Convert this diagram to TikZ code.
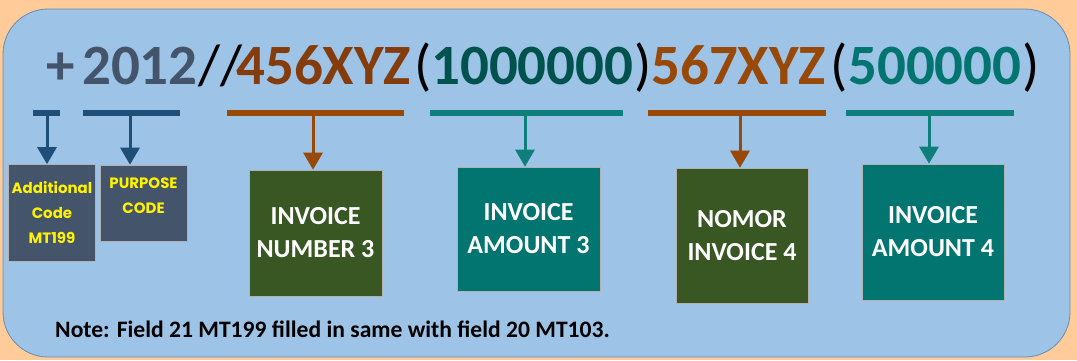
\documentclass[tikz,border=0pt]{standalone}
\usepackage{fontspec}
\setmainfont{Carlito}
\newfontfamily\gothicfont{Poppins}
\usepackage{xcolor}
\usepackage{tikz}
\usetikzlibrary{arrows.meta}

\definecolor{peach}{HTML}{FFCC99}
\definecolor{panel}{HTML}{9DC3E6}
\definecolor{frame}{HTML}{6A8CB0}
\definecolor{slate}{HTML}{44546A}
\definecolor{rust}{HTML}{843C0C}
\definecolor{amber}{HTML}{984807}
\definecolor{deepteal}{HTML}{00524E}
\definecolor{teal}{HTML}{037571}
\definecolor{navy}{HTML}{1F4E79}
\definecolor{barteal}{HTML}{0E7F7A}
\definecolor{olive}{HTML}{385723}

\begin{document}
\begin{tikzpicture}[x=1pt, y=-1pt,
  code/.style={font=\bfseries\fontsize{57}{60}\selectfont, inner sep=0pt, anchor=base west},
  mark line/.style={code, font=\mdseries\fontsize{57}{60}\selectfont},
  bar/.style={line width=6pt},
  pointer/.style={->, line width=3pt},
  >={Triangle[width=19pt, length=17pt]},
  fieldbox/.style={rectangle, draw=gray!60, line width=0.6pt, text centered, align=center, text=white, font=\bfseries\fontsize{26}{33}\selectfont},
  codebox/.style={rectangle, draw=gray!60, line width=0.6pt, fill=slate, text centered, align=center, text=yellow, font=\gothicfont\bfseries\fontsize{15}{25}\selectfont}]

% background and panel
\fill[peach] (0,0) rectangle (1077,360);
\draw[fill=panel, draw=frame, line width=0.8pt, rounded corners=45pt] (3,9) rectangle (1070,357);

% the code line
\node[code, text=slate] (plus) at (46,84) {+};
\node[code, text=slate] (year) at (82,84) {2012};
\node[mark line] (slash) at (198,84) {//};
\node[code, text=rust] (inv3) at (236,84) {456XYZ};
\node[mark line] (open3) at (414,84) {(};
\node[code, text=deepteal] (amt3) at (431,84) {1000000};
\node[mark line] (close3) at (634,84) {)};
\node[code, text=amber] (inv4) at (651,84) {567XYZ};
\node[mark line] (open4) at (830,84) {(};
\node[code, text=teal] (amt4) at (848,84) {500000};
\node[mark line] (close4) at (1022,84) {)};

% underline bars
\draw[bar, navy] (33,113) -- (60,113);
\draw[bar, navy] (83,113) -- (180,113);
\draw[bar, amber] (227,113) -- (404,113);
\draw[bar, barteal] (430,113) -- (623,113);
\draw[bar, amber] (648,113) -- (826,113);
\draw[bar, barteal] (846,113) -- (1014,113);
\coordinate (b1) at (47,113);
\coordinate (b2) at (130,113);
\coordinate (b3) at (313,113);
\coordinate (b4) at (525,113);
\coordinate (b5) at (740,113);
\coordinate (b6) at (929,113);

% field boxes
\node[codebox, minimum width=87pt, minimum height=97pt] (addl) at (52,213) {Additional\\Code\\MT199};
\node[codebox, minimum width=87pt, minimum height=76pt] (purpose) at (143.5,203) {PURPOSE\\CODE\\[-10pt]};
\node[fieldbox, fill=olive, minimum width=133pt, minimum height=126pt] (num3) at (315.5,233) {INVOICE\\NUMBER 3};
\node[fieldbox, fill=teal, minimum width=143pt, minimum height=124pt] (amount3) at (528.5,229) {INVOICE\\AMOUNT 3};
\node[fieldbox, fill=olive, minimum width=132pt, minimum height=135pt] (num4) at (742,235.5) {NOMOR\\INVOICE 4};
\node[fieldbox, fill=teal, minimum width=142pt, minimum height=136pt] (amount4) at (933,232) {INVOICE\\AMOUNT 4};

% pointers
\draw[pointer, navy] (b1) -- (b1 |- addl.north);
\draw[pointer, navy] (b2) -- (b2 |- purpose.north);
\draw[pointer, amber] (b3) -- (b3 |- num3.north);
\draw[pointer, barteal] (b4) -- (b4 |- amount3.north);
\draw[pointer, amber] (b5) -- (b5 |- num4.north);
\draw[pointer, barteal] (b6) -- (b6 |- amount4.north);

% note
\node[anchor=base west, inner sep=0pt, font=\bfseries\fontsize{23.6}{28}\selectfont] (note) at (55,337) {Note: Field 21 MT199 filled in same with field 20 MT103.};
\end{tikzpicture}
\end{document}
